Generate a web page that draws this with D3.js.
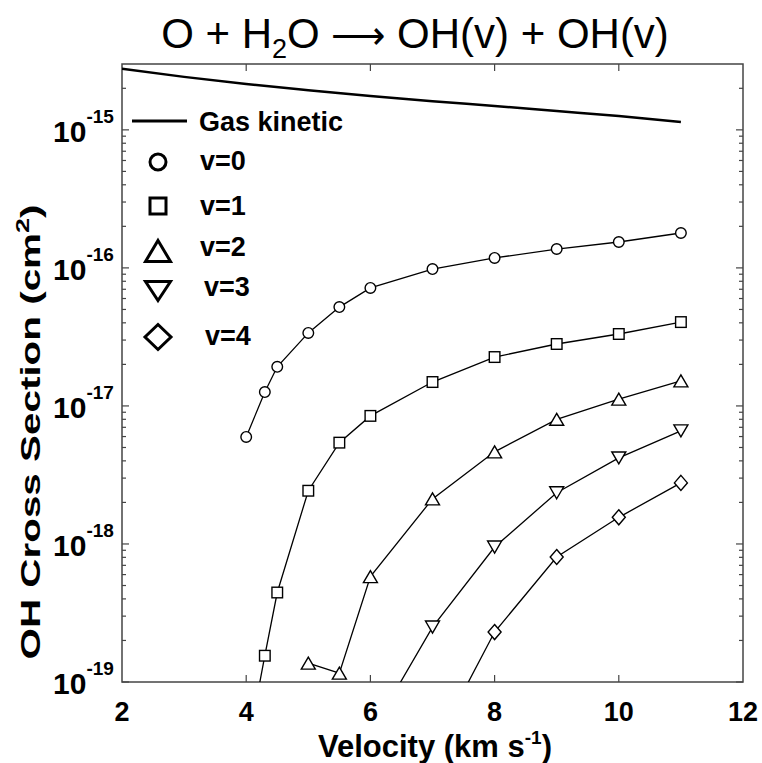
<!DOCTYPE html>
<html lang="en">
  <head>
    <meta charset="UTF-8" />
    <title>OH cross section</title>
    <script src="https://d3js.org/d3.v7.min.js"></script>
    <style>
      body { margin: 0; background: white; }
      svg { font-family: "Liberation Sans", Arial, sans-serif; }
      .frame { fill: none; stroke: #444; stroke-width: 1.5; }
      .tick { stroke: #444; stroke-width: 1.2; }
      .series { fill: none; stroke: black; stroke-width: 1.3; }
      .gas { fill: none; stroke: black; stroke-width: 2.5; }
    </style>
  </head>
  <body>
    <svg width="762" height="763"></svg>
    <script>
      // velocity (km/s) and cross sections (cm^2)
      const gasV = [2, 3, 4, 5, 6, 7, 8, 9, 10, 11];
      const gasSigma = [2.77e-15, 2.42e-15, 2.15e-15, 1.94e-15, 1.76e-15, 1.61e-15, 1.49e-15, 1.37e-15, 1.26e-15, 1.14e-15];

      const v0V = [4, 4.3, 4.5, 5, 5.5, 6, 7, 8, 9, 10, 11];
      const v0Sigma = [5.96e-18, 1.26e-17, 1.92e-17, 3.38e-17, 5.2e-17, 7.16e-17, 9.8e-17, 1.18e-16, 1.37e-16, 1.54e-16, 1.79e-16];

      const v1V = [4, 4.3, 4.5, 5, 5.5, 6, 7, 8, 9, 10, 11];
      const v1Sigma = [3e-20, 1.55e-19, 4.45e-19, 2.43e-18, 5.42e-18, 8.47e-18, 1.49e-17, 2.26e-17, 2.81e-17, 3.32e-17, 4.05e-17];

      const v2V = [5, 5.5, 6, 7, 8, 9, 10, 11];
      const v2Sigma = [1.37e-19, 1.16e-19, 5.8e-19, 2.12e-18, 4.65e-18, 8.0e-18, 1.12e-17, 1.52e-17];

      const v3V = [6, 7, 8, 9, 10, 11];
      const v3Sigma = [4.2e-20, 2.5e-19, 9.5e-19, 2.35e-18, 4.2e-18, 6.6e-18];

      const v4V = [7, 8, 9, 10, 11];
      const v4Sigma = [3.2e-20, 2.3e-19, 8.05e-19, 1.56e-18, 2.77e-18];

      const xTicks = [2, 4, 6, 8, 10, 12];
      const yDecades = [-19, -18, -17, -16, -15];
      const legendLabels = ["v=0", "v=1", "v=2", "v=3", "v=4"];

      const pLeft = 122, pRight = 743, pTop = 64, pBottom = 682;
      const svg = d3.select("svg");

      const x = d3.scaleLinear().domain([2, 12]).range([pLeft, pRight]);
      const y = d3.scaleLog().domain([1e-19, 3e-15]).range([pBottom, pTop]);

      svg.append("clipPath").attr("id", "plot")
        .append("rect")
        .attr("x", pLeft).attr("y", pTop)
        .attr("width", pRight - pLeft).attr("height", pBottom - pTop);

      // ticks, inside the box on all four sides
      const minor = [];
      for (let e = -19; e <= -15; e++) {
        for (let m = 1; m <= 9; m++) {
          const val = m * Math.pow(10, e);
          if (val >= 1e-19 && val <= 3e-15) minor.push({ val: val, major: m === 1 });
        }
      }
      const yt = svg.append("g");
      minor.forEach(function (t) {
        const len = t.major ? 7 : 4;
        yt.append("line").attr("class", "tick")
          .attr("x1", pLeft).attr("x2", pLeft + len)
          .attr("y1", y(t.val)).attr("y2", y(t.val));
        yt.append("line").attr("class", "tick")
          .attr("x1", pRight).attr("x2", pRight - len)
          .attr("y1", y(t.val)).attr("y2", y(t.val));
      });
      xTicks.slice(1, -1).forEach(function (t) {
        yt.append("line").attr("class", "tick")
          .attr("x1", x(t)).attr("x2", x(t))
          .attr("y1", pBottom).attr("y2", pBottom - 7);
        yt.append("line").attr("class", "tick")
          .attr("x1", x(t)).attr("x2", x(t))
          .attr("y1", pTop).attr("y2", pTop + 7);
      });

      svg.append("rect").attr("class", "frame")
        .attr("x", pLeft).attr("y", pTop)
        .attr("width", pRight - pLeft).attr("height", pBottom - pTop);

      // x tick labels
      svg.selectAll(".xlab").data(xTicks).enter().append("text")
        .attr("class", "xlab")
        .attr("x", function (d) { return x(d); })
        .attr("y", 721)
        .attr("text-anchor", "middle")
        .attr("font-size", 27).attr("font-weight", "bold")
        .text(function (d) { return d; });

      // y tick labels 10^n
      yDecades.forEach(function (e) {
        const t = svg.append("text")
          .attr("x", 53).attr("y", y(Math.pow(10, e)) + 12)
          .attr("font-weight", "bold").attr("font-size", 30);
        t.append("tspan").text("10");
        t.append("tspan").attr("font-size", 19).attr("dy", -19).text(String(e));
      });

      // data
      const line = d3.line()
        .x(function (d) { return x(d[0]); })
        .y(function (d) { return y(d[1]); });
      const gasLine = d3.line()
        .x(function (d) { return x(d[0]); })
        .y(function (d) { return y(d[1]); })
        .curve(d3.curveMonotoneX);

      const plot = svg.append("g").attr("clip-path", "url(#plot)");
      plot.append("path").attr("class", "gas")
        .attr("d", gasLine(d3.zip(gasV, gasSigma)));

      const series = [
        { v: v0V, s: v0Sigma, sym: "circle" },
        { v: v1V, s: v1Sigma, sym: "square" },
        { v: v2V, s: v2Sigma, sym: "up" },
        { v: v3V, s: v3Sigma, sym: "down" },
        { v: v4V, s: v4Sigma, sym: "diamond" },
      ];

      // w, h are half-width and half-height of the marker
      function shape(g, sym, cx, cy, w, h) {
        let d;
        if (sym === "circle") {
          return g.append("circle").attr("cx", cx).attr("cy", cy).attr("r", w);
        } else if (sym === "square") {
          return g.append("rect")
            .attr("x", cx - w).attr("y", cy - h)
            .attr("width", 2 * w).attr("height", 2 * h);
        } else if (sym === "up") {
          d = [[cx, cy - h], [cx + w, cy + h], [cx - w, cy + h]];
        } else if (sym === "down") {
          d = [[cx, cy + h], [cx + w, cy - h], [cx - w, cy - h]];
        } else {
          d = [[cx, cy - h], [cx + w, cy], [cx, cy + h], [cx - w, cy]];
        }
        return g.append("path").attr("d", "M" + d.join("L") + "Z");
      }

      const plotSize = {
        circle: [5.3, 5.3], square: [5.3, 5.3], up: [7, 6], down: [7, 6], diamond: [6.5, 7.5],
      };
      const legSize = {
        circle: [8, 8], square: [8, 8], up: [12.5, 10.5], down: [12.5, 9.5], diamond: [13, 12.5],
      };

      series.forEach(function (s) {
        const pts = d3.zip(s.v, s.s);
        plot.append("path").attr("class", "series").attr("d", line(pts));
        pts.forEach(function (p) {
          if (p[1] >= 1e-19) {
            shape(plot, s.sym, x(p[0]), y(p[1]), plotSize[s.sym][0], plotSize[s.sym][1])
              .attr("fill", "white").attr("stroke", "black").attr("stroke-width", 1.4);
          }
        });
      });

      // legend
      const lg = svg.append("g");
      lg.append("line").attr("x1", 132).attr("x2", 187).attr("y1", 121).attr("y2", 121)
        .attr("stroke", "black").attr("stroke-width", 3);
      lg.append("text").attr("x", 199).attr("y", 131)
        .attr("font-size", 27).attr("font-weight", "bold").text("Gas kinetic");
      const legY = [162, 206, 251, 291, 337];
      const legTextX = [200, 200, 200, 204, 205];
      const legTextY = [170, 215, 256, 296, 345];
      series.forEach(function (s, i) {
        shape(lg, s.sym, 158, legY[i], legSize[s.sym][0], legSize[s.sym][1])
          .attr("fill", "none").attr("stroke", "black").attr("stroke-width", 3)
          .attr("stroke-linejoin", "miter");
        lg.append("text").attr("x", legTextX[i]).attr("y", legTextY[i])
          .attr("font-size", 27).attr("font-weight", "bold").text(legendLabels[i]);
      });

      // title
      const title = svg.append("text").attr("x", 415).attr("y", 48)
        .attr("text-anchor", "middle").attr("font-size", 42);
      title.append("tspan").text("O + H");
      title.append("tspan").attr("font-size", 27).attr("dy", 10).text("2");
      title.append("tspan").attr("dy", -10).text("O  ");
      title.append("tspan").attr("font-size", 38).attr("font-family", "DejaVu Sans")
        .attr("font-weight", 300).text("\u27f6");
      title.append("tspan").text(" OH(v) + OH(v)");

      // axis titles
      const xl = svg.append("text").attr("x", 435).attr("y", 757)
        .attr("text-anchor", "middle").attr("font-size", 31).attr("font-weight", "bold");
      xl.append("tspan").text("Velocity (km s");
      xl.append("tspan").attr("font-size", 19).attr("dy", -13).text("-1");
      xl.append("tspan").attr("dy", 13).text(")");

      const yl = svg.append("text")
        .attr("transform", "translate(40,432) rotate(-90)")
        .attr("text-anchor", "middle").attr("font-size", 27).attr("font-weight", "bold")
        .attr("textLength", 455).attr("lengthAdjust", "spacingAndGlyphs");
      yl.append("tspan").text("OH Cross Section (cm");
      yl.append("tspan").attr("font-size", 18).attr("dy", -11).text("2");
      yl.append("tspan").attr("dy", 11).text(")");
    </script>
  </body>
</html>
